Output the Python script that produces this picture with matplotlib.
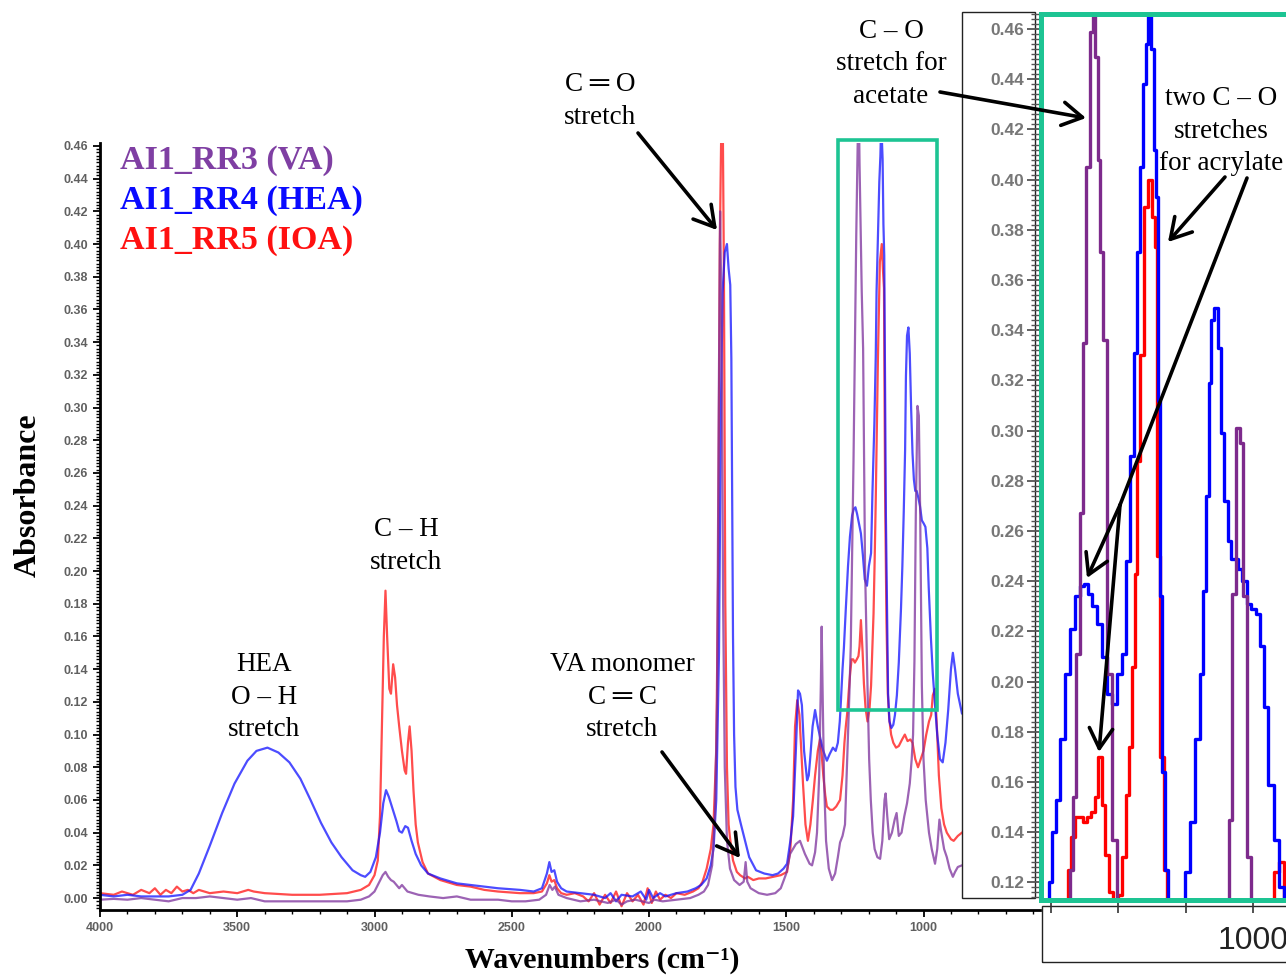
import numpy as np
import matplotlib
matplotlib.use('Agg')
import matplotlib.pyplot as plt
from matplotlib.patches import Rectangle, FancyArrowPatch
from matplotlib.ticker import MultipleLocator, FixedLocator, FormatStrFormatter


# ---- spectra: (wavenumber cm-1, absorbance) ----
va_points = [
    (4000, -0.001), (3950, -0.0005), (3900, -0.001), (3850, 0.0), (3800, -0.001),
    (3750, -0.002), (3700, 0.0), (3650, 0.0), (3600, 0.001), (3550, 0.0),
    (3500, -0.001), (3450, 0.0), (3400, -0.002), (3300, -0.002), (3200, -0.002),
    (3100, -0.002), (3050, -0.001), (3020, 0.001), (3000, 0.004), (2985, 0.009),
    (2970, 0.014), (2960, 0.016), (2950, 0.013), (2940, 0.011), (2930, 0.010),
    (2920, 0.008), (2910, 0.006), (2900, 0.008), (2890, 0.006), (2880, 0.004),
    (2860, 0.003), (2840, 0.002), (2800, 0.001), (2750, 0.0), (2700, 0.001),
    (2650, -0.001), (2600, -0.001), (2550, -0.001), (2500, -0.002), (2450, -0.002),
    (2400, -0.001), (2375, 0.002), (2362, 0.008), (2352, 0.005), (2343, 0.007),
    (2330, 0.002), (2300, 0.0), (2250, -0.002), (2200, -0.001), (2150, -0.003),
    (2120, -0.001), (2100, -0.004), (2080, -0.002), (2050, -0.001), (2000, -0.003),
    (1980, -0.001), (1950, -0.002), (1900, -0.001), (1850, 0.0), (1820, 0.002),
    (1800, 0.004), (1785, 0.008), (1770, 0.02), (1760, 0.05), (1752, 0.12),
    (1746, 0.30), (1741, 0.42), (1736, 0.36), (1730, 0.18), (1724, 0.08),
    (1716, 0.035), (1705, 0.018), (1690, 0.011), (1670, 0.008), (1655, 0.010),
    (1648, 0.022), (1642, 0.010), (1630, 0.006), (1600, 0.003), (1570, 0.002),
    (1540, 0.003), (1520, 0.006), (1500, 0.015), (1486, 0.027), (1465, 0.033),
    (1450, 0.035), (1432, 0.027), (1415, 0.021), (1406, 0.020), (1395, 0.028),
    (1388, 0.040), (1380, 0.075), (1374, 0.13), (1371, 0.166), (1367, 0.12),
    (1362, 0.07), (1355, 0.035), (1345, 0.018), (1333, 0.011), (1322, 0.015),
    (1312, 0.025), (1304, 0.034), (1295, 0.038), (1286, 0.045), (1280, 0.075),
    (1275, 0.10), (1270, 0.125), (1265, 0.154), (1260, 0.211), (1255, 0.267),
    (1250, 0.335), (1245, 0.405), (1240, 0.459), (1236, 0.49), (1233, 0.449),
    (1229, 0.408), (1225, 0.371), (1220, 0.336), (1213, 0.203), (1205, 0.137),
    (1198, 0.085), (1192, 0.06), (1185, 0.04), (1178, 0.03), (1168, 0.025),
    (1158, 0.024), (1150, 0.035), (1142, 0.06), (1138, 0.064), (1132, 0.05),
    (1125, 0.036), (1115, 0.04), (1105, 0.048), (1098, 0.052), (1090, 0.038),
    (1080, 0.04), (1070, 0.05), (1060, 0.058), (1050, 0.07), (1043, 0.085),
    (1038, 0.10), (1033, 0.145), (1028, 0.235), (1022, 0.301), (1017, 0.295),
    (1012, 0.234), (1006, 0.13), (1000, 0.085), (992, 0.06), (980, 0.04),
    (970, 0.03), (958, 0.021), (950, 0.03), (942, 0.048), (935, 0.04),
    (925, 0.03), (915, 0.025), (905, 0.018), (893, 0.013), (885, 0.016),
    (875, 0.019), (860, 0.02),
]

hea_points = [
    (4000, 0.002), (3950, 0.001), (3900, 0.002), (3850, 0.001), (3800, 0.001),
    (3750, 0.001), (3700, 0.002), (3670, 0.005), (3640, 0.015), (3600, 0.032),
    (3555, 0.052), (3510, 0.070), (3463, 0.084), (3430, 0.090), (3390, 0.092),
    (3350, 0.089), (3310, 0.083), (3270, 0.073), (3233, 0.060), (3195, 0.046),
    (3157, 0.034), (3120, 0.025), (3080, 0.017), (3050, 0.014), (3034, 0.013),
    (3015, 0.016), (2995, 0.025), (2980, 0.040), (2968, 0.058), (2958, 0.066),
    (2948, 0.062), (2935, 0.055), (2920, 0.047), (2910, 0.041), (2900, 0.040),
    (2888, 0.044), (2878, 0.043), (2865, 0.035), (2850, 0.027), (2830, 0.020),
    (2805, 0.015), (2760, 0.012), (2700, 0.009), (2650, 0.008), (2600, 0.007),
    (2550, 0.006), (2470, 0.005), (2420, 0.004), (2390, 0.006), (2372, 0.015),
    (2363, 0.022), (2355, 0.016), (2345, 0.017), (2335, 0.010), (2320, 0.006),
    (2300, 0.004), (2250, 0.003), (2200, 0.002), (2160, 0.0), (2140, 0.003),
    (2120, -0.002), (2100, 0.002), (2060, 0.001), (2030, 0.004), (2010, -0.001),
    (2000, 0.005), (1985, 0.0), (1960, 0.003), (1940, 0.001), (1900, 0.003),
    (1860, 0.004), (1830, 0.006), (1810, 0.008), (1790, 0.012), (1775, 0.020),
    (1765, 0.030), (1755, 0.060), (1745, 0.15), (1738, 0.30), (1732, 0.37),
    (1724, 0.395), (1716, 0.40), (1710, 0.385), (1704, 0.375), (1700, 0.33),
    (1697, 0.25), (1694, 0.16), (1690, 0.10), (1685, 0.068), (1678, 0.054),
    (1665, 0.045), (1650, 0.035), (1635, 0.025), (1610, 0.017), (1580, 0.015),
    (1550, 0.014), (1530, 0.015), (1510, 0.018), (1497, 0.021), (1485, 0.035),
    (1475, 0.050), (1465, 0.090), (1457, 0.127), (1450, 0.125), (1443, 0.118),
    (1435, 0.090), (1424, 0.072), (1418, 0.075), (1413, 0.085), (1404, 0.105),
    (1395, 0.115), (1385, 0.105), (1375, 0.097), (1365, 0.090), (1352, 0.084),
    (1342, 0.088), (1330, 0.092), (1320, 0.090), (1312, 0.095), (1305, 0.108),
    (1301, 0.12), (1295, 0.140), (1290, 0.153), (1283, 0.177), (1275, 0.203),
    (1268, 0.221), (1260, 0.234), (1254, 0.238), (1248, 0.239), (1242, 0.235),
    (1236, 0.230), (1228, 0.223), (1221, 0.210), (1214, 0.195), (1206, 0.191),
    (1199, 0.203), (1191, 0.211), (1186, 0.248), (1179, 0.29), (1174, 0.331),
    (1171, 0.371), (1166, 0.405), (1161, 0.438), (1157, 0.454), (1154, 0.475),
    (1149, 0.452), (1146, 0.412), (1143, 0.393), (1140, 0.312), (1137, 0.234),
    (1132, 0.164), (1129, 0.125), (1124, 0.108), (1117, 0.104), (1110, 0.106),
    (1104, 0.112), (1097, 0.124), (1090, 0.144), (1082, 0.177), (1077, 0.203),
    (1072, 0.236), (1067, 0.274), (1064, 0.319), (1060, 0.344), (1055, 0.349),
    (1050, 0.333), (1045, 0.299), (1040, 0.272), (1035, 0.256), (1030, 0.249),
    (1025, 0.249), (1019, 0.245), (1013, 0.240), (1006, 0.231), (999, 0.229),
    (993, 0.227), (986, 0.214), (981, 0.190), (973, 0.159), (966, 0.137),
    (958, 0.118), (950, 0.100), (940, 0.085), (930, 0.083), (920, 0.095),
    (910, 0.115), (900, 0.140), (893, 0.150), (885, 0.140), (875, 0.125),
    (860, 0.113),
]

ioa_points = [
    (4000, 0.003), (3950, 0.002), (3920, 0.004), (3880, 0.002), (3850, 0.005),
    (3820, 0.003), (3800, 0.006), (3780, 0.002), (3760, 0.005), (3740, 0.003),
    (3720, 0.007), (3700, 0.004), (3680, 0.005), (3660, 0.003), (3640, 0.005),
    (3600, 0.003), (3550, 0.004), (3500, 0.003), (3460, 0.005), (3440, 0.004),
    (3400, 0.003), (3300, 0.002), (3200, 0.002), (3100, 0.003), (3050, 0.005),
    (3020, 0.008), (3000, 0.014), (2988, 0.023), (2980, 0.050), (2973, 0.105),
    (2966, 0.16), (2960, 0.188), (2954, 0.16), (2946, 0.128), (2940, 0.125),
    (2932, 0.143), (2925, 0.135), (2918, 0.118), (2910, 0.105), (2900, 0.090),
    (2890, 0.078), (2885, 0.076), (2878, 0.095), (2872, 0.105), (2865, 0.090),
    (2858, 0.066), (2850, 0.045), (2842, 0.034), (2825, 0.022), (2805, 0.015),
    (2760, 0.011), (2700, 0.008), (2650, 0.007), (2600, 0.005), (2550, 0.004),
    (2470, 0.003), (2420, 0.003), (2390, 0.004), (2372, 0.009), (2363, 0.014),
    (2355, 0.010), (2345, 0.011), (2335, 0.006), (2320, 0.003), (2300, 0.002),
    (2270, 0.003), (2240, 0.001), (2220, -0.002), (2200, 0.003), (2180, -0.004),
    (2160, 0.002), (2140, -0.003), (2120, 0.004), (2100, -0.005), (2080, 0.003),
    (2060, -0.002), (2040, 0.002), (2020, -0.004), (2005, 0.006), (1990, -0.003),
    (1975, 0.004), (1960, -0.001), (1940, 0.002), (1920, 0.0), (1900, 0.003),
    (1870, 0.002), (1840, 0.004), (1820, 0.006), (1805, 0.010), (1790, 0.018),
    (1775, 0.030), (1765, 0.045), (1755, 0.090), (1748, 0.20), (1742, 0.40),
    (1736, 0.48), (1731, 0.47), (1727, 0.38), (1722, 0.18), (1716, 0.08),
    (1710, 0.045), (1705, 0.037), (1694, 0.023), (1680, 0.016), (1668, 0.014),
    (1650, 0.012), (1640, 0.013), (1620, 0.011), (1600, 0.012), (1575, 0.012),
    (1548, 0.013), (1520, 0.014), (1497, 0.016), (1485, 0.030), (1475, 0.060),
    (1468, 0.105), (1460, 0.121), (1452, 0.112), (1445, 0.090), (1439, 0.070),
    (1430, 0.045), (1421, 0.035), (1412, 0.045), (1403, 0.060), (1395, 0.075),
    (1385, 0.090), (1377, 0.097), (1372, 0.090), (1365, 0.075), (1358, 0.063),
    (1352, 0.056), (1340, 0.054), (1330, 0.054), (1318, 0.056), (1304, 0.060),
    (1295, 0.075), (1288, 0.095), (1283, 0.105), (1278, 0.113), (1273, 0.125),
    (1267, 0.138), (1262, 0.146), (1256, 0.146), (1250, 0.144), (1243, 0.146),
    (1237, 0.148), (1233, 0.154), (1228, 0.170), (1222, 0.151), (1217, 0.131),
    (1211, 0.116), (1204, 0.108), (1197, 0.115), (1191, 0.130), (1186, 0.155),
    (1182, 0.174), (1178, 0.206), (1174, 0.243), (1170, 0.288), (1166, 0.330),
    (1159, 0.389), (1152, 0.400), (1148, 0.385), (1144, 0.373), (1140, 0.250),
    (1135, 0.170), (1130, 0.125), (1125, 0.110), (1118, 0.100), (1110, 0.095),
    (1100, 0.092), (1090, 0.093), (1078, 0.097), (1068, 0.100), (1058, 0.096),
    (1048, 0.097), (1040, 0.095), (1030, 0.085), (1020, 0.080), (1010, 0.085),
    (1000, 0.090), (990, 0.100), (980, 0.108), (972, 0.112), (966, 0.124),
    (958, 0.128), (950, 0.100), (944, 0.075), (935, 0.055), (925, 0.045),
    (915, 0.040), (900, 0.036), (890, 0.035), (875, 0.038), (860, 0.040),
]

series_names = ['AI1_RR3 (VA)', 'AI1_RR4 (HEA)', 'AI1_RR5 (IOA)']
series_colors = ['#7b2f9b', '#1010ff', '#ff1010']

va_wn, va_abs = np.array(va_points).T
hea_wn, hea_abs = np.array(hea_points).T
ioa_wn, ioa_abs = np.array(ioa_points).T

W, H = 1286, 977


def fx(x):
    return x / W


def fy(y):
    return 1 - y / H


fig = plt.figure(figsize=(W / 100, H / 100), dpi=100)

# ---------------- main spectrum ----------------
ax = fig.add_axes([fx(100), fy(910), fx(1040) - fx(100), (910 - 143) / H])
ax.plot(ioa_wn, ioa_abs, color=series_colors[2], lw=1.6, alpha=0.75)
ax.plot(hea_wn, hea_abs, color=series_colors[1], lw=1.6, alpha=0.75)
ax.plot(va_wn, va_abs, color=series_colors[0], lw=1.6, alpha=0.75)
ax.set_xlim(4000, 4000 - 940 / 0.2745)
ax.set_ylim(-0.0073, 0.4618)
for s in ['top', 'right']:
    ax.spines[s].set_visible(False)
for s in ['left', 'bottom']:
    ax.spines[s].set_linewidth(2.0)
ax.xaxis.set_major_locator(MultipleLocator(500))
ax.xaxis.set_minor_locator(MultipleLocator(100))
ax.xaxis.set_major_formatter(FormatStrFormatter('%d'))
ax.yaxis.set_major_locator(MultipleLocator(0.02))
ax.yaxis.set_minor_locator(MultipleLocator(0.002))
ax.yaxis.set_major_formatter(FormatStrFormatter('%.2f'))
ax.tick_params(which='major', length=5, width=1.3, labelsize=9, labelcolor='#606060',
               direction='out')
ax.tick_params(which='minor', length=3, width=1.0, direction='out')
for lab in ax.get_xticklabels() + ax.get_yticklabels():
    lab.set_family('Liberation Sans')
    lab.set_weight('bold')

# ---------------- zoomed inset ----------------
teal = '#1dc493'
axi = fig.add_axes([fx(1041), fy(900), (1400 - 1041) / W, (900 - 14) / H], zorder=3)
axi.plot(ioa_wn, ioa_abs, color='#ff0000', lw=2.4, drawstyle='steps-mid')
axi.plot(hea_wn, hea_abs, color='#0000ff', lw=2.4, drawstyle='steps-mid')
axi.plot(va_wn, va_abs, color='#7d2a8c', lw=2.4, drawstyle='steps-mid')
axi.set_xlim(1315, 781.6)
axi.set_ylim(0.113, 0.466)
for s in axi.spines.values():
    s.set_color(teal)
    s.set_linewidth(3.6)
axi.xaxis.set_major_locator(FixedLocator([1000]))
axi.xaxis.set_minor_locator(MultipleLocator(100))
axi.xaxis.set_major_formatter(FormatStrFormatter('%d'))
axi.yaxis.set_major_locator(MultipleLocator(0.02))
axi.yaxis.set_minor_locator(MultipleLocator(0.002))
axi.yaxis.set_major_formatter(FormatStrFormatter('%.2f'))
axi.tick_params(axis='y', which='major', length=10, width=1.3, color='#555555',
                labelsize=12.5, labelcolor='#777777', pad=2)
axi.tick_params(axis='y', which='minor', length=7, width=1.0, color='#555555')
axi.tick_params(axis='x', which='both', length=9, width=1.2, color='#333333',
                labelsize=23, labelcolor='#222222', pad=10)
for lab in axi.get_xticklabels() + axi.get_yticklabels():
    lab.set_family('Liberation Sans')
for lab in axi.get_yticklabels():
    lab.set_weight('bold')

# boxes around the inset tick labels and the zoom window in the main plot
fig.add_artist(Rectangle((fx(962), fy(898)), fx(1035) - fx(962), (898 - 12) / H,
                         transform=fig.transFigure, facecolor='white',
                         edgecolor='#222222', lw=1.0, zorder=2))
fig.add_artist(Rectangle((fx(1042), fy(962)), fx(1340) - fx(1042), (962 - 906) / H,
                         transform=fig.transFigure, facecolor='none',
                         edgecolor='#222222', lw=1.0, zorder=2))
fig.add_artist(Rectangle((fx(838), fy(710)), fx(937) - fx(838), (710 - 140) / H,
                         transform=fig.transFigure, facecolor='none',
                         edgecolor=teal, lw=2.6, zorder=2))

# ---------------- labels ----------------
serif = ['Liberation Serif', 'DejaVu Serif', 'DejaVu Sans']
fig.text(fx(28), fy(495), 'Absorbance', rotation=90, ha='center', va='center',
         fontsize=23, fontweight='bold', family=serif)
fig.text(fx(602), fy(960), 'Wavenumbers (cm\u207b\u00b9)', ha='center', va='center',
         fontsize=21.5, fontweight='bold', family=serif)

for name, color, ypx in zip(series_names, ['#7f3fa3', '#0a0aff', '#ff1010'], [160, 200, 241]):
    fig.text(fx(120), fy(ypx), name, ha='left', va='center', color=color,
             fontsize=24.5, fontweight='bold', family=serif)

notes = [
    ('C \u2550 O\nstretch', 600, 101),
    ('C \u2013 O\nstretch for\nacetate', 891, 64),
    ('two C \u2013 O\nstretches\nfor acrylate', 1221, 131),
    ('C \u2013 H\nstretch', 406, 546),
    ('HEA\nO \u2013 H\nstretch', 264, 697),
    ('VA monomer\nC \u2550 C\nstretch', 622, 697),
]
for txt, xp, yp in notes:
    fig.text(fx(xp), fy(yp), txt, ha='center', va='center', fontsize=19.5,
             family=serif, linespacing=1.38, zorder=6)

arrows = [
    ((638, 133), (717, 230), True),
    ((940, 92), (1086, 118), True),
    ((1225, 177), (1168, 242), True),
    ((1247, 178), (1120, 505), False),
    ((1120, 505), (1087, 578), True),
    ((1120, 505), (1099, 752), True),
    ((662, 752), (740, 858), True),
]
for (x0, y0), (x1, y1), head in arrows:
    style = '->,head_length=0.6,head_width=0.35' if head else '-'
    fig.add_artist(FancyArrowPatch((fx(x0), fy(y0)), (fx(x1), fy(y1)),
                                   transform=fig.transFigure, arrowstyle=style,
                                   mutation_scale=24, lw=2.6, color='black',
                                   shrinkA=0, shrinkB=0, zorder=6))

fig.savefig('out.png', dpi=100)
